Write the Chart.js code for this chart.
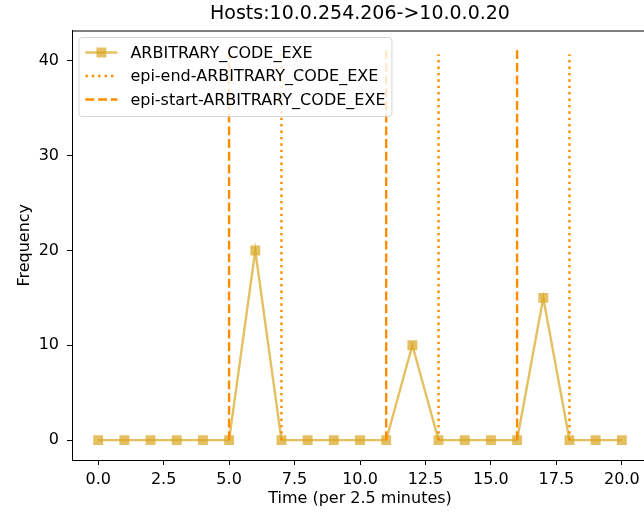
<!DOCTYPE html>
<html>
<head>
<meta charset="utf-8">
<script src="https://cdn.jsdelivr.net/npm/chart.js@4.4.0/dist/chart.umd.min.js"></script>
<style>
  html, body { margin: 0; padding: 0; background: #fff; overflow: hidden; }
  #wrap { width: 660px; height: 512px; }
</style>
</head>
<body>
<div id="wrap"><canvas id="chart" width="660" height="512"></canvas></div>
<script>
"use strict";

// data
var timeSteps = [0, 1, 2, 3, 4, 5, 6, 7, 8, 9, 10, 11, 12, 13, 14, 15, 16, 17, 18, 19, 20];
var codeExeCounts = [0, 0, 0, 0, 0, 0, 20, 0, 0, 0, 0, 0, 10, 0, 0, 0, 0, 15, 0, 0, 0];
var epiStart = [5, 11, 16];
var epiEnd = [7, 13, 18];
var epiStartTop = 41.2;
var epiEndTop = 40.7;
var xTickValues = [0, 2.5, 5, 7.5, 10, 12.5, 15, 17.5, 20];
var yTickValues = [0, 10, 20, 30, 40];
var chartTitle = 'Hosts:10.0.254.206->10.0.0.20';

var FONT = '"DejaVu Sans", sans-serif';
Chart.defaults.color = '#000';
Chart.defaults.font.family = FONT;

function vlinePoints(xs, top) {
  var pts = [];
  xs.forEach(function (x) {
    pts.push({x: x, y: 0}, {x: x, y: top}, {x: x, y: null});
  });
  return pts;
}

// matplotlib-like title over the axes, legend inside, top/right spines
var axesDecor = {
  id: 'axesDecor',
  afterDraw: function (chart) {
    var ctx = chart.ctx, area = chart.chartArea;
    var sets = chart.data.datasets;
    ctx.save();

    ctx.font = '19px ' + FONT;
    ctx.fillStyle = '#000';
    ctx.textAlign = 'center';
    ctx.textBaseline = 'middle';
    ctx.fillText(chartTitle, (area.left + area.right) / 2, 14);
    ctx.textAlign = 'left';

    ctx.font = '16px ' + FONT;
    var textW = Math.max.apply(null, sets.map(function (d) { return ctx.measureText(d.label).width; }));
    var pad = 6.4, handle = 32, gap = 13, rowH = 23.5;
    var x0 = area.left + 7, y0 = area.top + 7;
    var w = pad + handle + gap + textW + pad;
    var h = 15 + rowH * (sets.length - 1) + 17;
    ctx.beginPath();
    ctx.roundRect(x0, y0, w, h, 3);
    ctx.fillStyle = 'rgba(255,255,255,0.8)';
    ctx.fill();
    ctx.strokeStyle = 'rgba(204,204,204,0.8)';
    ctx.lineWidth = 1;
    ctx.stroke();

    sets.forEach(function (d, i) {
      var cy = y0 + 15 + i * rowH;
      var hx = x0 + pad;
      ctx.beginPath();
      ctx.setLineDash(d.borderDash || []);
      ctx.strokeStyle = d.borderColor;
      ctx.lineWidth = d.borderWidth;
      ctx.moveTo(hx, cy);
      ctx.lineTo(hx + handle, cy);
      ctx.stroke();
      ctx.setLineDash([]);
      if (d.pointRadius > 0) {
        var s = d.pointRadius * Math.SQRT1_2;
        ctx.fillStyle = d.pointBackgroundColor;
        ctx.fillRect(hx + handle / 2 - s, cy - s, 2 * s, 2 * s);
      }
      ctx.fillStyle = '#000';
      ctx.textBaseline = 'middle';
      ctx.fillText(d.label, hx + handle + gap, cy + 1);
    });

    ctx.strokeStyle = '#000';
    ctx.lineWidth = 1;
    ctx.beginPath();
    ctx.moveTo(area.left, area.top + 0.5);
    ctx.lineTo(area.right, area.top + 0.5);
    ctx.lineTo(area.right - 0.5, area.bottom);
    ctx.stroke();
    ctx.restore();
  }
};

var ctxChart = document.getElementById('chart').getContext('2d');
var hostsChart = new Chart(ctxChart, {
  type: 'line',
  data: {
    datasets: [
      {
        label: 'ARBITRARY_CODE_EXE',
        data: timeSteps.map(function (t, i) { return {x: t, y: codeExeCounts[i]}; }),
        borderColor: 'rgba(218,165,32,0.7)',
        backgroundColor: 'rgba(218,165,32,0.7)',
        pointBackgroundColor: 'rgba(218,165,32,0.7)',
        pointBorderWidth: 0,
        pointStyle: 'rect',
        pointRadius: 7,
        borderWidth: 2.4,
        tension: 0,
        order: 3
      },
      {
        label: 'epi-end-ARBITRARY_CODE_EXE',
        data: vlinePoints(epiEnd, epiEndTop),
        borderColor: '#ff8c00',
        borderDash: [2.4, 4],
        borderWidth: 2.4,
        pointRadius: 0,
        spanGaps: false,
        order: 2
      },
      {
        label: 'epi-start-ARBITRARY_CODE_EXE',
        data: vlinePoints(epiStart, epiStartTop),
        borderColor: '#ff8c00',
        borderDash: [8.9, 3.8],
        borderWidth: 2.4,
        pointRadius: 0,
        spanGaps: false,
        order: 1
      }
    ]
  },
  options: {
    responsive: false,
    animation: false,
    layout: { padding: { top: 30.5, right: 12, bottom: 0, left: 0 } },
    scales: {
      x: {
        type: 'linear',
        min: -1,
        max: 21,
        afterFit: function (scale) { scale.height = 52; },
        afterBuildTicks: function (scale) {
          scale.ticks = xTickValues.map(function (v) { return {value: v}; });
        },
        ticks: {
          padding: 5,
          font: { size: 16 },
          callback: function (value) { return Number(value).toFixed(1); }
        },
        grid: { drawOnChartArea: false, tickLength: 5, color: '#000' },
        border: { display: true, color: '#000', width: 1 },
        title: {
          display: true,
          text: 'Time (per 2.5 minutes)',
          font: { size: 16 },
          padding: { top: 0, bottom: 4 }
        }
      },
      y: {
        min: -2.1,
        max: 43.2,
        afterFit: function (scale) { scale.width = 72; },
        afterBuildTicks: function (scale) {
          scale.ticks = yTickValues.map(function (v) { return {value: v}; });
        },
        ticks: {
          padding: 8,
          font: { size: 16 },
          callback: function (value) { return value; }
        },
        grid: { drawOnChartArea: false, tickLength: 5, color: '#000' },
        border: { display: true, color: '#000', width: 1 },
        title: {
          display: true,
          text: 'Frequency',
          font: { size: 16 },
          padding: { top: 15, bottom: 0 }
        }
      }
    },
    plugins: {
      legend: { display: false },
      tooltip: { enabled: false },
      title: { display: false }
    }
  },
  plugins: [axesDecor]
});
</script>
</body>
</html>
